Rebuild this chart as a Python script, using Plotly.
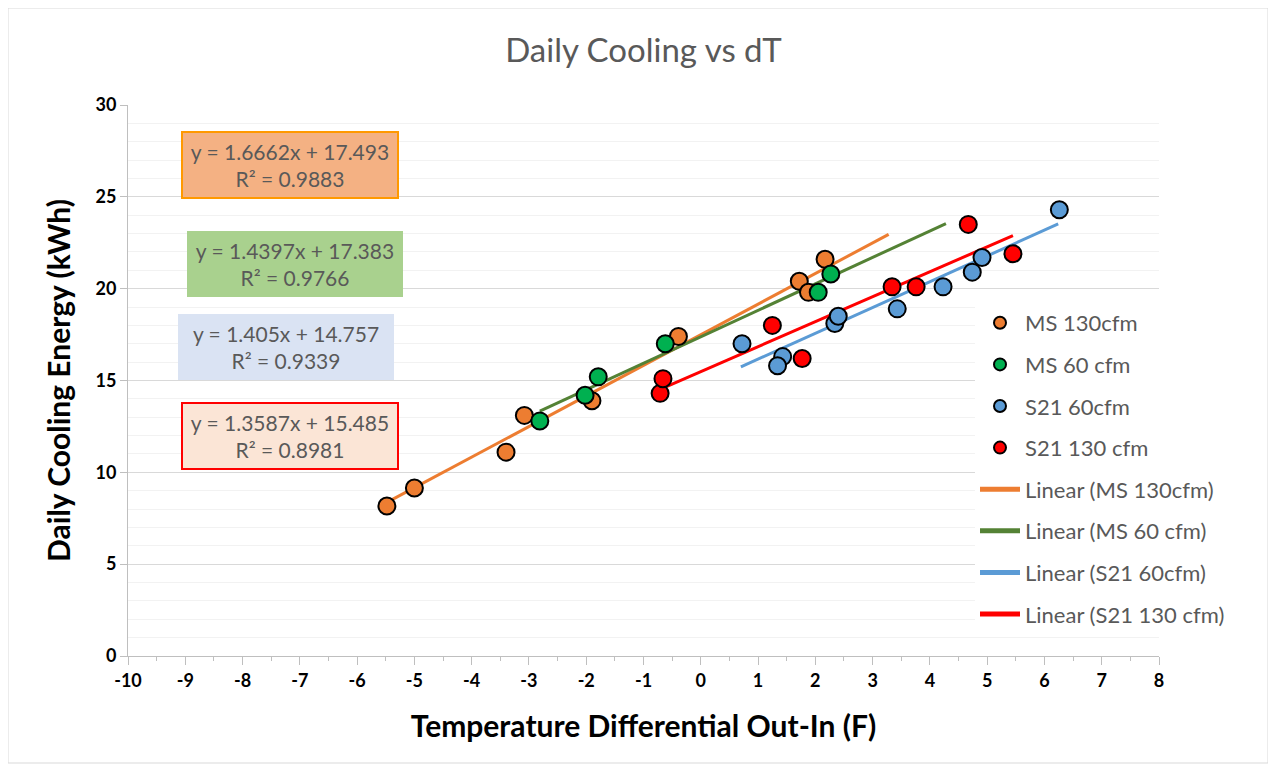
import plotly.graph_objects as go

# ---- data ----
ms130_x = [-5.48, -5.00, -3.40, -3.08, -1.90, -0.39, 1.72, 1.88, 2.17]
ms130_y = [8.17, 9.15, 11.1, 13.1, 13.9, 17.4, 20.4, 19.8, 21.6]

ms60_x = [-2.81, -2.02, -1.79, -0.62, 2.05, 2.27]
ms60_y = [12.8, 14.2, 15.2, 17.0, 19.8, 20.8]

s21_60_x = [0.72, 1.43, 1.34, 2.34, 2.40, 3.43, 4.23, 4.74, 4.91, 6.26]
s21_60_y = [17.0, 16.3, 15.8, 18.1, 18.5, 18.9, 20.1, 20.9, 21.7, 24.3]

s21_130_x = [-0.71, -0.66, 1.25, 1.77, 3.34, 3.76, 4.67, 5.45]
s21_130_y = [14.3, 15.1, 18.0, 16.2, 20.1, 20.1, 23.5, 21.9]

series_names = ["MS 130cfm", "MS 60 cfm", "S21 60cfm", "S21 130 cfm"]
slopes = [1.6662, 1.4397, 1.405, 1.3587]
intercepts = [17.493, 17.383, 14.757, 15.485]
r2 = [0.9883, 0.9766, 0.9339, 0.8981]
trend_x0 = [-5.48, -2.81, 0.70, -0.66]
trend_x1 = [3.28, 4.28, 6.24, 5.45]

x_ticks = list(range(-10, 9))
x_tick_labels = [str(v) for v in x_ticks]
y_ticks = [0, 5, 10, 15, 20, 25, 30]

# ---- styles ----
marker_colors = ["#ED7D31", "#00B050", "#5B9BD5", "#FF0000"]
line_colors = ["#ED7D31", "#548235", "#5B9BD5", "#FF0000"]
box_bg = ["#F4B183", "#A9D18E", "#DAE3F3", "#FBE5D6"]
box_border = ["#FF9900", "rgba(0,0,0,0)", "rgba(0,0,0,0)", "#FF0000"]
box_pos = [(-7.18, 26.76), (-7.08, 21.34), (-7.24, 16.82), (-7.18, 12.0)]

FONT = "Lato, Carlito, Calibri, sans-serif"
GRAY = "#595959"

xs = [ms130_x, ms60_x, s21_60_x, s21_130_x]
ys = [ms130_y, ms60_y, s21_60_y, s21_130_y]

fig = go.Figure()
for i in range(4):
    tx = [trend_x0[i], trend_x1[i]]
    ty = [slopes[i] * v + intercepts[i] for v in tx]
    fig.add_trace(go.Scatter(
        x=tx, y=ty, mode="lines", name="Linear (%s)" % series_names[i],
        legendgroup="t%d" % i, legendrank=10 + i,
        line=dict(color=line_colors[i], width=3),
    ))
for i in range(4):
    fig.add_trace(go.Scatter(
        x=xs[i], y=ys[i], mode="markers", name=series_names[i],
        legendgroup="g%d" % i, legendrank=1 + i,
        marker=dict(size=17, color=marker_colors[i], line=dict(color="black", width=2)),
    ))

annotations = []
for i in range(4):
    txt = "y = %sx + %s<br>R² = %s" % (slopes[i], intercepts[i], r2[i])
    annotations.append(dict(
        x=box_pos[i][0], y=box_pos[i][1], xref="x", yref="y", text=txt,
        showarrow=False, font=dict(family=FONT, size=21, color=GRAY),
        bgcolor=box_bg[i], bordercolor=box_border[i], borderwidth=2,
        borderpad=3, width=208, height=58, align="center",
    ))

L, R, T, B = 120, 125, 97, 123
PW, PH = 1276 - L - R, 771 - T - B

fig.update_layout(
    width=1276, height=771,
    paper_bgcolor="white", plot_bgcolor="white",
    margin=dict(l=L, r=R, t=T, b=B),
    title=dict(text="Daily Cooling vs dT", x=0.5, xref="paper", y=1 - 42 / 771, yref="container",
               xanchor="center", yanchor="middle",
               font=dict(family=FONT, size=33, color=GRAY)),
    font=dict(family=FONT),
    showlegend=True,
    legend=dict(x=(975 - 8 - L) / PW, y=(648 - 294) / PH, xanchor="left", yanchor="top",
                bgcolor="white", font=dict(family=FONT, size=22, color=GRAY),
                tracegroupgap=10, traceorder="grouped", itemwidth=40, itemsizing="constant"),
    annotations=annotations,
)

fig.update_xaxes(
    range=[-10, 8], tickvals=x_ticks, ticktext=x_tick_labels, showgrid=False, zeroline=False,
    showline=True, linecolor="#BFBFBF", linewidth=1,
    ticks="outside", ticklen=8, tickcolor="#BFBFBF",
    minor=dict(dtick=0.5, ticks="outside", ticklen=4, tickcolor="#BFBFBF", showgrid=False),
    tickfont=dict(family=FONT, size=18, color="black", weight="bold"),
    title=dict(text="Temperature Differential Out-In (F)", standoff=26,
               font=dict(family=FONT, size=30, color="black", weight="bold")),
)
fig.update_yaxes(
    range=[0, 30], tickvals=y_ticks, showgrid=True, gridcolor="#D9D9D9", gridwidth=1,
    zeroline=False, showline=True, linecolor="#BFBFBF", linewidth=1,
    ticks="outside", ticklen=7, tickcolor="#BFBFBF",
    minor=dict(dtick=1, showgrid=True, gridcolor="#F2F2F2", gridwidth=1, ticks=""),
    tickfont=dict(family=FONT, size=18, color="black", weight="bold"),
    title=dict(text="Daily Cooling Energy (kWh)", standoff=16,
               font=dict(family=FONT, size=30, color="black", weight="bold")),
)

# chart outer border
fig.add_shape(type="rect", xref="paper", yref="paper",
              x0=(0 - L) / PW, x1=(1260 - L) / PW,
              y0=(T + PH - 755) / PH, y1=(T + PH - 0) / PH,
              line=dict(color="#D9D9D9", width=1), fillcolor="rgba(0,0,0,0)", layer="below")

fig.write_html("out.html")
